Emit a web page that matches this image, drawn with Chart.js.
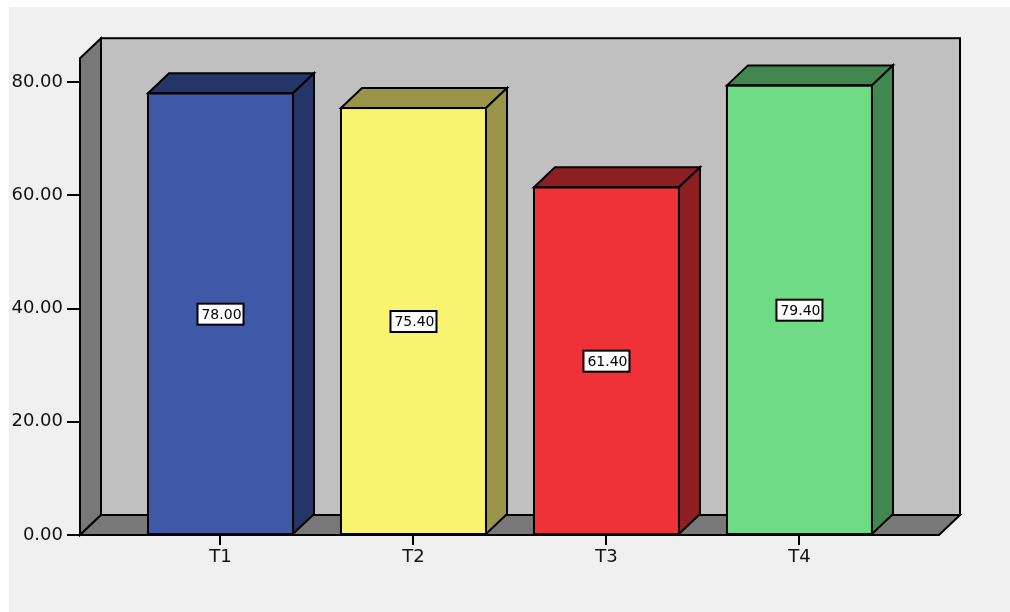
<!DOCTYPE html>
<html>
<head>
<meta charset="utf-8">
<script src="https://cdn.jsdelivr.net/npm/chart.js@4"></script>
<style>
  html, body { margin: 0; padding: 0; background: #ffffff; }
  canvas { display: block; }
</style>
</head>
<body>
<canvas id="grafico" width="1010" height="612"></canvas>
<script>
const categorias = ['T1', 'T2', 'T3', 'T4'];
const valores = [78.00, 75.40, 61.40, 79.40];
const ticksY = [0, 20, 40, 60, 80];

const corFrente = ['#3f59a9', '#f8f470', '#ee3238', '#6fdb84'];
const corLado = ['#253567', '#9a9448', '#8d1f22', '#438750'];

// profundidade do efeito 3D
const DX = 21, DY = -20;

const fundo3d = {
    id: 'fundo3d',
    beforeDraw(chart) {
        const ctx = chart.ctx;
        ctx.save();
        ctx.fillStyle = '#f0f0f0';
        ctx.fillRect(9, 7, chart.width, chart.height);
        ctx.restore();
    },
    beforeDatasetsDraw(chart) {
        const ctx = chart.ctx;
        const x = chart.scales.x, y = chart.scales.y;
        const l = x.left, r = x.right;
        const b = y.getPixelForValue(0);
        const t = y.getPixelForValue(84.2);
        ctx.save();
        ctx.lineWidth = 2;
        ctx.strokeStyle = '#000';
        ctx.lineJoin = 'miter';
        // parede do fundo
        ctx.fillStyle = '#c0c0c0';
        ctx.fillRect(l + DX, t + DY, r - l, b - t);
        ctx.strokeRect(l + DX, t + DY, r - l, b - t);
        // parede esquerda
        ctx.fillStyle = '#787878';
        ctx.beginPath();
        ctx.moveTo(l, b); ctx.lineTo(l, t); ctx.lineTo(l + DX, t + DY); ctx.lineTo(l + DX, b + DY);
        ctx.closePath(); ctx.fill(); ctx.stroke();
        // chão
        ctx.beginPath();
        ctx.moveTo(l, b); ctx.lineTo(r, b); ctx.lineTo(r + DX, b + DY); ctx.lineTo(l + DX, b + DY);
        ctx.closePath(); ctx.fill(); ctx.stroke();
        ctx.restore();
    },
    afterDatasetsDraw(chart) {
        const ctx = chart.ctx;
        const meta = chart.getDatasetMeta(0);
        ctx.save();
        ctx.lineWidth = 2;
        ctx.strokeStyle = '#000';
        meta.data.forEach((bar, i) => {
            const p = bar.getProps(['x', 'y', 'base', 'width'], true);
            const esq = p.x - p.width / 2, dir = p.x + p.width / 2;
            ctx.fillStyle = corLado[i];
            // topo
            ctx.beginPath();
            ctx.moveTo(esq, p.y); ctx.lineTo(esq + DX, p.y + DY); ctx.lineTo(dir + DX, p.y + DY); ctx.lineTo(dir, p.y);
            ctx.closePath(); ctx.fill(); ctx.stroke();
            // lado
            ctx.beginPath();
            ctx.moveTo(dir, p.y); ctx.lineTo(dir + DX, p.y + DY); ctx.lineTo(dir + DX, p.base + DY); ctx.lineTo(dir, p.base);
            ctx.closePath(); ctx.fill(); ctx.stroke();
            // frente contorno
            ctx.strokeRect(esq, p.y, p.width, p.base - p.y);
        });
        // rótulos
        ctx.font = '14px "DejaVu Sans"';
        ctx.textAlign = 'center';
        ctx.textBaseline = 'middle';
        meta.data.forEach((bar, i) => {
            const yMeio = chart.scales.y.getPixelForValue(valores[i] / 2);
            const txt = valores[i].toFixed(2);
            const w = 46, h = 21;
            ctx.fillStyle = '#fff';
            ctx.fillRect(bar.x - w / 2, yMeio - h / 2, w, h);
            ctx.lineWidth = 2;
            ctx.strokeRect(bar.x - w / 2, yMeio - h / 2, w, h);
            ctx.fillStyle = '#000';
            ctx.fillText(txt, bar.x + 1, yMeio + 1);
        });
        ctx.restore();
    }
};

new Chart(document.getElementById('grafico'), {
    type: 'bar',
    data: {
        datasets: [{
            data: valores.map((v, i) => ({ x: i + 1, y: v })),
            backgroundColor: corFrente,
            borderWidth: 0,
            barThickness: 145
        }]
    },
    options: {
        responsive: false,
        animation: false,
        devicePixelRatio: 1,
        layout: { padding: { top: 82, right: 71, left: 0, bottom: 0 } },
        plugins: { legend: { display: false }, tooltip: { enabled: false } },
        scales: {
            x: {
                type: 'linear',
                offset: false,
                min: 0.272,
                max: 4.723,
                afterBuildTicks: (s) => { s.ticks = categorias.map((c, i) => ({ value: i + 1 })); },
                afterFit: (s) => { s.height = 77; },
                ticks: {
                    callback: (v) => categorias[v - 1],
                    color: '#111',
                    font: { family: 'DejaVu Sans', size: 18 },
                    padding: 2,
                    maxRotation: 0
                },
                grid: { offset: false, drawOnChartArea: false, tickLength: 10, color: '#000', lineWidth: 2 },
                border: { display: false }
            },
            y: {
                min: 0,
                max: 80,
                afterBuildTicks: (s) => { s.ticks = ticksY.map(v => ({ value: v })); },
                afterFit: (s) => { s.width = 80; },
                ticks: {
                    callback: (v) => v.toFixed(2),
                    color: '#111',
                    font: { family: 'DejaVu Sans', size: 18 },
                    padding: 4
                },
                grid: { drawOnChartArea: false, tickLength: 13, color: '#000', lineWidth: 2 },
                border: { display: false }
            }
        }
    },
    plugins: [fundo3d]
});
</script>
</body>
</html>
